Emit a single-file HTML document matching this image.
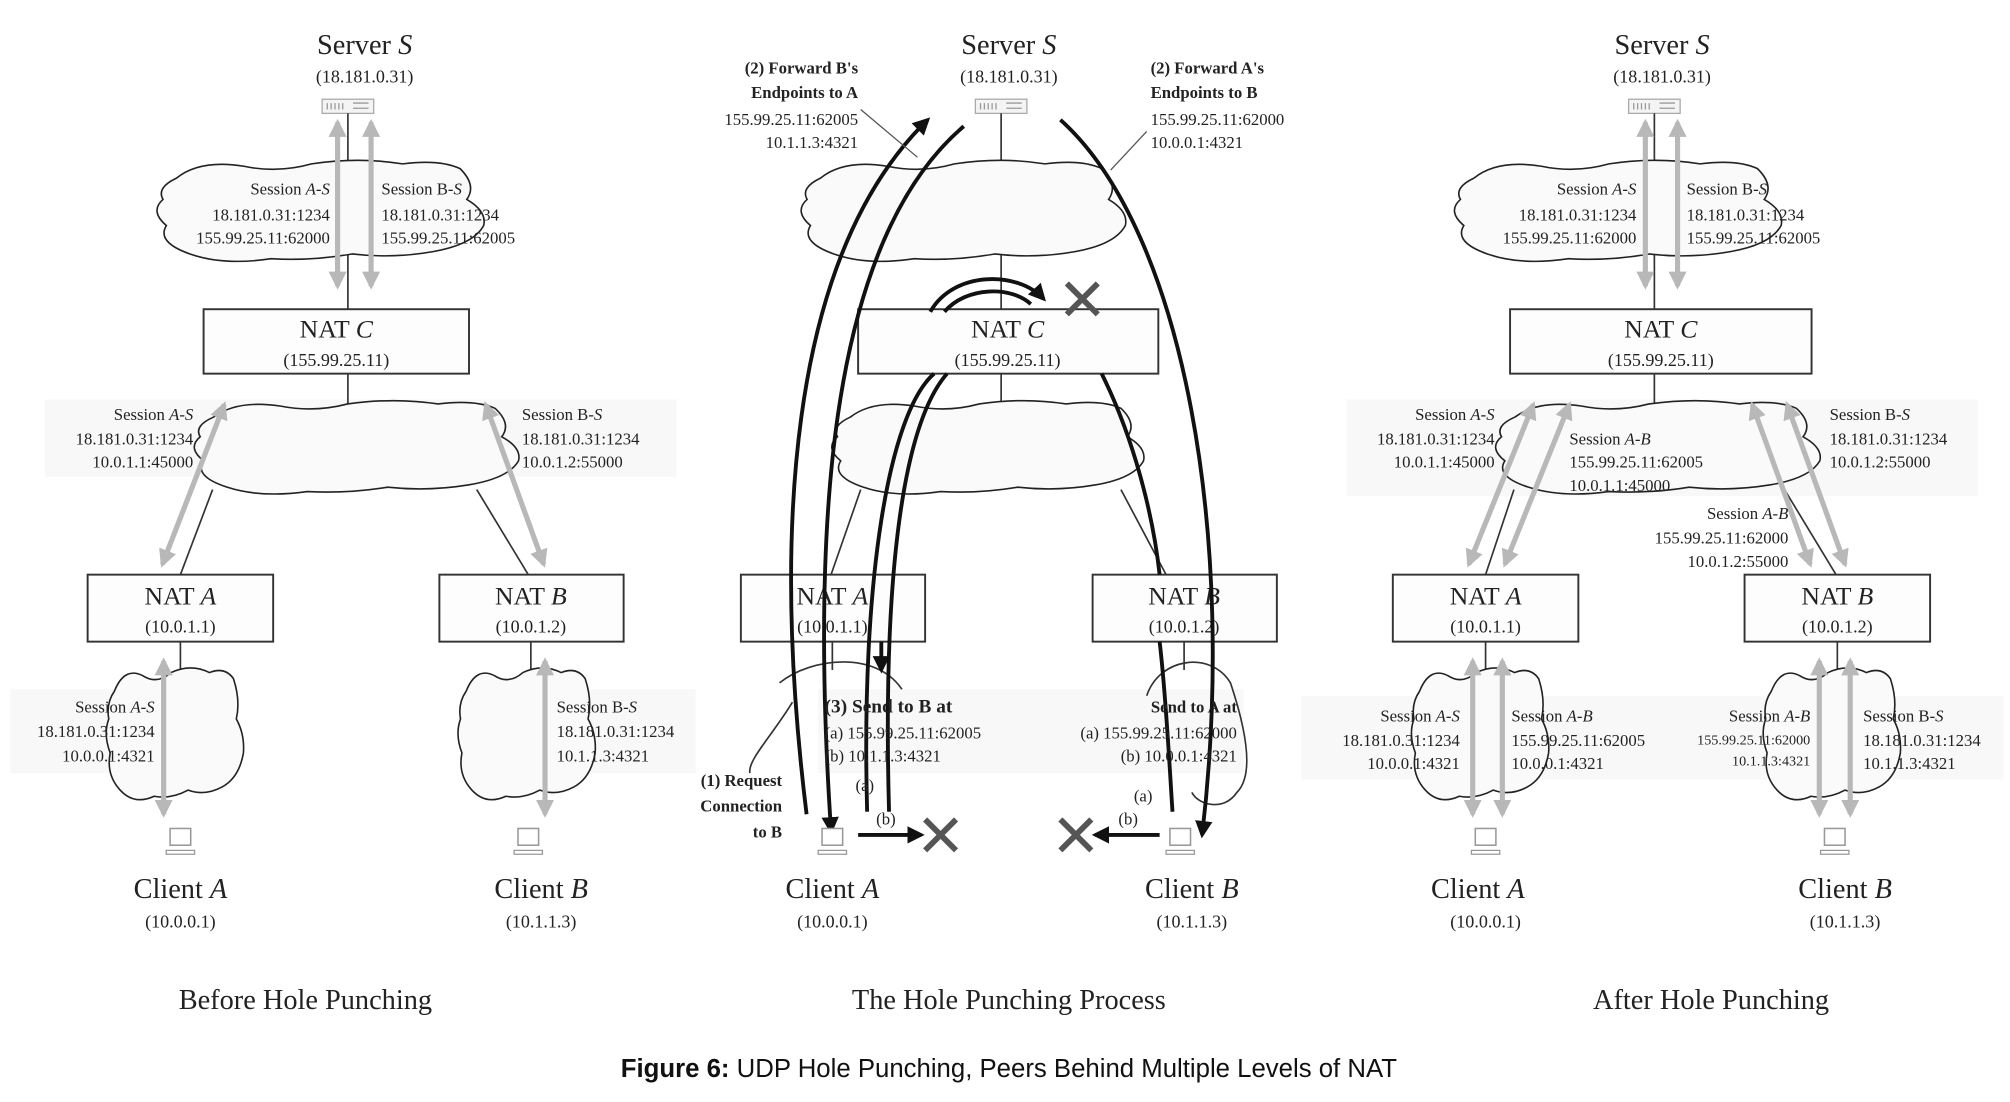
<!DOCTYPE html>
<html><head><meta charset="utf-8"><style>
html,body{margin:0;padding:0;background:#fff}
svg{display:block}
text{font-family:"Liberation Serif",serif;fill:#222}
.t{font-size:22px}
.ip{font-size:14px}
.s{font-size:13px}
.b{font-weight:bold}
.it{font-style:italic}
.box{fill:#fdfdfd;stroke:#333;stroke-width:1.5}
.ln{stroke:#333;stroke-width:1.3;fill:none}
.ga{stroke:#b8b8b8;stroke-width:4;fill:none;marker-start:url(#gh);marker-end:url(#gh)}
.bk{stroke:#111;stroke-width:3;fill:none}
.cl{fill:#fafafa;stroke:#222;stroke-width:1.6}
</style></head><body>
<svg width="2010" height="1102" viewBox="0 0 1560 855.3" xmlns="http://www.w3.org/2000/svg">
<defs>
<marker id="gh" viewBox="0 0 10 10" refX="8" refY="5" markerWidth="3.5" markerHeight="3.5" orient="auto-start-reverse"><path d="M0,0 L10,5 L0,10 Z" fill="#b8b8b8"/></marker>
<marker id="bh" viewBox="0 0 10 10" refX="8" refY="5" markerWidth="4.5" markerHeight="4.5" orient="auto"><path d="M0,0 L10,5 L0,10 Z" fill="#111"/></marker>
<path id="cloud" d="M8,22 Q15,6 28,12 Q38,18 48,10 Q62,4 75,10 Q86,6 92,14 Q97,28 94,40 Q100,50 99,62 Q96,78 84,84 Q72,90 60,86 Q48,92 36,90 Q22,96 12,86 Q2,76 5,62 Q0,50 4,40 Q2,30 8,22 Z" vector-effect="non-scaling-stroke"/>
<g id="srv"><rect x="0" y="0" width="40" height="11" fill="#f4f4f4" stroke="#aaa"/><path d="M4,3v5M7,3v5M10,3v5M13,3v5M16,3v5M24,3h12M24,7h12" stroke="#999"/></g>
<g id="pc"><rect x="-8" y="-12" width="16" height="13" fill="#fff" stroke="#999" stroke-width="1.2"/><path d="M-11,5h22v3h-22z" fill="#fff" stroke="#999"/></g>
<g id="X"><path d="M-12,-12L12,12M12,-12L-12,12" stroke="#555" stroke-width="4.5"/></g>
</defs>

<!-- faint label bands -->
<rect x="35" y="310" width="490" height="60" fill="#f8f8f8"/>
<rect x="8" y="535" width="145" height="65" fill="#f8f8f8"/>
<rect x="425" y="535" width="115" height="65" fill="#f8f8f8"/>
<rect x="1045" y="310" width="490" height="75" fill="#f8f8f8"/>
<rect x="1010" y="540" width="545" height="65" fill="#f8f8f8"/>
<rect x="635" y="535" width="330" height="65" fill="#f8f8f8"/>

<!-- ===== PANEL 1 ===== -->
<text class="t" x="283" y="42" text-anchor="middle">Server <tspan class="it">S</tspan></text>
<text class="ip" x="283" y="64" text-anchor="middle">(18.181.0.31)</text>
<use href="#srv" x="250" y="77"/>
<line class="ln" x1="270" y1="88" x2="270" y2="240"/>
<use href="#cloud" class="cl" transform="translate(116,118) scale(2.62,0.92)"/>
<line class="ln" x1="270" y1="290" x2="270" y2="318"/>
<use href="#cloud" class="cl" transform="translate(145,305) scale(2.6,0.85)"/>
<line class="ln" x1="165" y1="380" x2="140" y2="446"/>
<line class="ln" x1="370" y1="380" x2="410" y2="446"/>
<rect class="box" x="158" y="240" width="206" height="50"/>
<text class="t" x="261" y="262" text-anchor="middle" style="font-size:20px">NAT <tspan class="it">C</tspan></text>
<text class="ip" x="261" y="284" text-anchor="middle">(155.99.25.11)</text>
<line class="ga" x1="262" y1="95" x2="262" y2="222"/>
<line class="ga" x1="288" y1="95" x2="288" y2="222"/>
<text class="s" x="256" y="151" text-anchor="end">Session <tspan class="it">A-S</tspan></text>
<text class="s" x="256" y="171" text-anchor="end">18.181.0.31:1234</text>
<text class="s" x="256" y="189" text-anchor="end">155.99.25.11:62000</text>
<text class="s" x="296" y="151">Session B-<tspan class="it">S</tspan></text>
<text class="s" x="296" y="171">18.181.0.31:1234</text>
<text class="s" x="296" y="189">155.99.25.11:62005</text>
<line class="ga" x1="174" y1="314" x2="126" y2="438"/>
<line class="ga" x1="377" y1="314" x2="422" y2="438"/>
<text class="s" x="150" y="326" text-anchor="end">Session <tspan class="it">A-S</tspan></text>
<text class="s" x="150" y="345" text-anchor="end">18.181.0.31:1234</text>
<text class="s" x="150" y="363" text-anchor="end">10.0.1.1:45000</text>
<text class="s" x="405" y="326">Session B-<tspan class="it">S</tspan></text>
<text class="s" x="405" y="345">18.181.0.31:1234</text>
<text class="s" x="405" y="363">10.0.1.2:55000</text>
<rect class="box" x="68" y="446" width="144" height="52"/>
<text class="t" x="140" y="469" text-anchor="middle" style="font-size:20px">NAT <tspan class="it">A</tspan></text>
<text class="ip" x="140" y="491" text-anchor="middle">(10.0.1.1)</text>
<rect class="box" x="341" y="446" width="143" height="52"/>
<text class="t" x="412" y="469" text-anchor="middle" style="font-size:20px">NAT <tspan class="it">B</tspan></text>
<text class="ip" x="412" y="491" text-anchor="middle">(10.0.1.2)</text>
<line class="ln" x1="140" y1="498" x2="140" y2="520"/>
<line class="ln" x1="412" y1="498" x2="412" y2="520"/>
<use href="#cloud" class="cl" transform="translate(80,510) scale(1.1,1.2)"/>
<use href="#cloud" class="cl" transform="translate(353,510) scale(1.1,1.2)"/>
<line class="ga" x1="127" y1="513" x2="127" y2="632"/>
<line class="ga" x1="423" y1="513" x2="423" y2="632"/>
<text class="s" x="120" y="553" text-anchor="end">Session <tspan class="it">A-S</tspan></text>
<text class="s" x="120" y="572" text-anchor="end">18.181.0.31:1234</text>
<text class="s" x="120" y="591" text-anchor="end">10.0.0.1:4321</text>
<text class="s" x="432" y="553">Session B-<tspan class="it">S</tspan></text>
<text class="s" x="432" y="572">18.181.0.31:1234</text>
<text class="s" x="432" y="591">10.1.1.3:4321</text>
<use href="#pc" x="140" y="655"/>
<use href="#pc" x="410" y="655"/>
<text class="t" x="140" y="697" text-anchor="middle">Client <tspan class="it">A</tspan></text>
<text class="ip" x="140" y="720" text-anchor="middle">(10.0.0.1)</text>
<text class="t" x="420" y="697" text-anchor="middle">Client <tspan class="it">B</tspan></text>
<text class="ip" x="420" y="720" text-anchor="middle">(10.1.1.3)</text>
<text class="t" x="237" y="783" text-anchor="middle">Before Hole Punching</text>

<!-- ===== PANEL 2 ===== -->
<text class="t" x="783" y="42" text-anchor="middle">Server <tspan class="it">S</tspan></text>
<text class="ip" x="783" y="64" text-anchor="middle">(18.181.0.31)</text>
<use href="#srv" x="757" y="77"/>
<line class="ln" x1="777" y1="88" x2="777" y2="240"/>
<use href="#cloud" class="cl" transform="translate(616,118) scale(2.6,0.92)"/>
<line class="ln" x1="777" y1="290" x2="777" y2="318"/>
<use href="#cloud" class="cl" transform="translate(640,305) scale(2.5,0.85)"/>
<line class="ln" x1="668" y1="380" x2="645" y2="446"/>
<line class="ln" x1="870" y1="380" x2="905" y2="446"/>
<rect class="box" x="666" y="240" width="233" height="50"/>
<text class="t" x="782" y="262" text-anchor="middle" style="font-size:20px">NAT <tspan class="it">C</tspan></text>
<text class="ip" x="782" y="284" text-anchor="middle">(155.99.25.11)</text>
<rect class="box" x="575" y="446" width="143" height="52"/>
<text class="t" x="646" y="469" text-anchor="middle" style="font-size:20px">NAT <tspan class="it">A</tspan></text>
<text class="ip" x="646" y="491" text-anchor="middle">(10.0.1.1)</text>
<rect class="box" x="848" y="446" width="143" height="52"/>
<text class="t" x="919" y="469" text-anchor="middle" style="font-size:20px">NAT <tspan class="it">B</tspan></text>
<text class="ip" x="919" y="491" text-anchor="middle">(10.0.1.2)</text>
<line class="ln" x1="646" y1="498" x2="646" y2="520"/>
<line class="ln" x1="919" y1="498" x2="919" y2="520"/>
<path class="ln" d="M615,545 C600,570 580,590 582,600 M605,530 C630,510 680,505 700,535" />
<path class="ln" d="M890,540 C900,510 940,505 955,530 C965,560 975,600 960,615 C950,630 930,625 925,615" />
<!-- black arcs -->
<path class="bk" d="M626,632 C600,420 610,200 720,93" marker-end="url(#bh)"/>
<path class="bk" d="M748,98 C640,190 630,420 645,645" marker-end="url(#bh)"/>
<path class="bk" d="M823,93 C920,180 960,420 933,648" marker-end="url(#bh)"/>
<path class="bk" d="M673,630 C668,450 690,320 725,290"/>
<path class="bk" d="M690,630 C685,450 700,330 735,290"/>
<path class="bk" d="M722,242 C740,210 790,210 810,232" marker-end="url(#bh)"/>
<path class="bk" d="M733,242 C750,222 785,222 800,236"/>
<path class="bk" d="M855,290 C880,340 895,400 900,446"/>
<path class="bk" d="M900,498 C905,540 908,600 910,630"/>
<line class="bk" x1="684" y1="498" x2="684" y2="520" marker-end="url(#bh)"/>
<use href="#X" x="840" y="232"/>
<text class="s b" x="666" y="57" text-anchor="end">(2) Forward B's</text>
<text class="s b" x="666" y="76" text-anchor="end">Endpoints to A</text>
<text class="s" x="666" y="97" text-anchor="end">155.99.25.11:62005</text>
<text class="s" x="666" y="115" text-anchor="end">10.1.1.3:4321</text>
<line x1="668" y1="85" x2="712" y2="122" stroke="#555"/>
<text class="s b" x="893" y="57">(2) Forward A's</text>
<text class="s b" x="893" y="76">Endpoints to B</text>
<text class="s" x="893" y="97">155.99.25.11:62000</text>
<text class="s" x="893" y="115">10.0.0.1:4321</text>
<line x1="890" y1="102" x2="862" y2="132" stroke="#555"/>
<text class="b" x="640" y="553" style="font-size:15px">(3) Send to B at</text>
<text class="s" x="640" y="573">(a) 155.99.25.11:62005</text>
<text class="s" x="640" y="591">(b) 10.1.1.3:4321</text>
<text class="s" x="664" y="614">(a)</text>
<text class="s b" x="607" y="610" text-anchor="end">(1) Request</text>
<text class="s b" x="607" y="630" text-anchor="end">Connection</text>
<text class="s b" x="607" y="650" text-anchor="end">to B</text>
<text class="s b" x="960" y="553" text-anchor="end">Send to A at</text>
<text class="s" x="960" y="573" text-anchor="end">(a) 155.99.25.11:62000</text>
<text class="s" x="960" y="591" text-anchor="end">(b) 10.0.0.1:4321</text>
<text class="s" x="880" y="622">(a)</text>
<use href="#pc" x="646" y="655"/>
<use href="#pc" x="916" y="655"/>
<line class="bk" x1="666" y1="648" x2="715" y2="648" marker-end="url(#bh)"/>
<use href="#X" x="730" y="648"/>
<text class="s" x="680" y="640">(b)</text>
<line class="bk" x1="900" y1="648" x2="850" y2="648" marker-end="url(#bh)"/>
<use href="#X" x="835" y="648"/>
<text class="s" x="868" y="640">(b)</text>
<text class="t" x="646" y="697" text-anchor="middle">Client <tspan class="it">A</tspan></text>
<text class="ip" x="646" y="720" text-anchor="middle">(10.0.0.1)</text>
<text class="t" x="925" y="697" text-anchor="middle">Client <tspan class="it">B</tspan></text>
<text class="ip" x="925" y="720" text-anchor="middle">(10.1.1.3)</text>
<text class="t" x="783" y="783" text-anchor="middle">The Hole Punching Process</text>

<!-- ===== PANEL 3 ===== -->
<text class="t" x="1290" y="42" text-anchor="middle">Server <tspan class="it">S</tspan></text>
<text class="ip" x="1290" y="64" text-anchor="middle">(18.181.0.31)</text>
<use href="#srv" x="1264" y="77"/>
<line class="ln" x1="1284" y1="88" x2="1284" y2="240"/>
<use href="#cloud" class="cl" transform="translate(1123,118) scale(2.62,0.92)"/>
<line class="ln" x1="1284" y1="290" x2="1284" y2="318"/>
<use href="#cloud" class="cl" transform="translate(1155,305) scale(2.6,0.85)"/>
<line class="ln" x1="1175" y1="380" x2="1153" y2="446"/>
<line class="ln" x1="1385" y1="380" x2="1425" y2="446"/>
<rect class="box" x="1172" y="240" width="234" height="50"/>
<text class="t" x="1289" y="262" text-anchor="middle" style="font-size:20px">NAT <tspan class="it">C</tspan></text>
<text class="ip" x="1289" y="284" text-anchor="middle">(155.99.25.11)</text>
<line class="ga" x1="1277" y1="95" x2="1277" y2="222"/>
<line class="ga" x1="1302" y1="95" x2="1302" y2="222"/>
<text class="s" x="1270" y="151" text-anchor="end">Session <tspan class="it">A-S</tspan></text>
<text class="s" x="1270" y="171" text-anchor="end">18.181.0.31:1234</text>
<text class="s" x="1270" y="189" text-anchor="end">155.99.25.11:62000</text>
<text class="s" x="1309" y="151">Session B-<tspan class="it">S</tspan></text>
<text class="s" x="1309" y="171">18.181.0.31:1234</text>
<text class="s" x="1309" y="189">155.99.25.11:62005</text>
<line class="ga" x1="1190" y1="314" x2="1140" y2="438"/>
<line class="ga" x1="1218" y1="314" x2="1168" y2="438"/>
<line class="ga" x1="1360" y1="314" x2="1405" y2="438"/>
<line class="ga" x1="1387" y1="314" x2="1432" y2="438"/>
<text class="s" x="1160" y="326" text-anchor="end">Session <tspan class="it">A-S</tspan></text>
<text class="s" x="1160" y="345" text-anchor="end">18.181.0.31:1234</text>
<text class="s" x="1160" y="363" text-anchor="end">10.0.1.1:45000</text>
<text class="s" x="1218" y="345">Session <tspan class="it">A-B</tspan></text>
<text class="s" x="1218" y="363">155.99.25.11:62005</text>
<text class="s" x="1218" y="381">10.0.1.1:45000</text>
<text class="s" x="1420" y="326">Session B-<tspan class="it">S</tspan></text>
<text class="s" x="1420" y="345">18.181.0.31:1234</text>
<text class="s" x="1420" y="363">10.0.1.2:55000</text>
<text class="s" x="1388" y="403" text-anchor="end">Session <tspan class="it">A-B</tspan></text>
<text class="s" x="1388" y="422" text-anchor="end">155.99.25.11:62000</text>
<text class="s" x="1388" y="440" text-anchor="end">10.0.1.2:55000</text>
<rect class="box" x="1081" y="446" width="144" height="52"/>
<text class="t" x="1153" y="469" text-anchor="middle" style="font-size:20px">NAT <tspan class="it">A</tspan></text>
<text class="ip" x="1153" y="491" text-anchor="middle">(10.0.1.1)</text>
<rect class="box" x="1354" y="446" width="144" height="52"/>
<text class="t" x="1426" y="469" text-anchor="middle" style="font-size:20px">NAT <tspan class="it">B</tspan></text>
<text class="ip" x="1426" y="491" text-anchor="middle">(10.0.1.2)</text>
<line class="ln" x1="1153" y1="498" x2="1153" y2="520"/>
<line class="ln" x1="1426" y1="498" x2="1426" y2="520"/>
<use href="#cloud" class="cl" transform="translate(1093,510) scale(1.1,1.2)"/>
<use href="#cloud" class="cl" transform="translate(1366,510) scale(1.1,1.2)"/>
<line class="ga" x1="1143" y1="513" x2="1143" y2="632"/>
<line class="ga" x1="1166" y1="513" x2="1166" y2="632"/>
<line class="ga" x1="1412" y1="513" x2="1412" y2="632"/>
<line class="ga" x1="1436" y1="513" x2="1436" y2="632"/>
<text class="s" x="1133" y="560" text-anchor="end">Session <tspan class="it">A-S</tspan></text>
<text class="s" x="1133" y="579" text-anchor="end">18.181.0.31:1234</text>
<text class="s" x="1133" y="597" text-anchor="end">10.0.0.1:4321</text>
<text class="s" x="1173" y="560">Session <tspan class="it">A-B</tspan></text>
<text class="s" x="1173" y="579">155.99.25.11:62005</text>
<text class="s" x="1173" y="597">10.0.0.1:4321</text>
<text class="s" x="1405" y="560" text-anchor="end">Session <tspan class="it">A-B</tspan></text>
<text x="1405" y="578" text-anchor="end" style="font-size:11px">155.99.25.11:62000</text>
<text x="1405" y="594" text-anchor="end" style="font-size:11px">10.1.1.3:4321</text>
<text class="s" x="1446" y="560">Session B-<tspan class="it">S</tspan></text>
<text class="s" x="1446" y="579">18.181.0.31:1234</text>
<text class="s" x="1446" y="597">10.1.1.3:4321</text>
<use href="#pc" x="1153" y="655"/>
<use href="#pc" x="1424" y="655"/>
<text class="t" x="1147" y="697" text-anchor="middle">Client <tspan class="it">A</tspan></text>
<text class="ip" x="1153" y="720" text-anchor="middle">(10.0.0.1)</text>
<text class="t" x="1432" y="697" text-anchor="middle">Client <tspan class="it">B</tspan></text>
<text class="ip" x="1432" y="720" text-anchor="middle">(10.1.1.3)</text>
<text class="t" x="1328" y="783" text-anchor="middle">After Hole Punching</text>

<text x="783" y="836" text-anchor="middle" style="font-family:'Liberation Sans',sans-serif;font-size:20px;fill:#111"><tspan font-weight="bold">Figure 6:</tspan> UDP Hole Punching, Peers Behind Multiple Levels of NAT</text>
</svg>
</body></html>
